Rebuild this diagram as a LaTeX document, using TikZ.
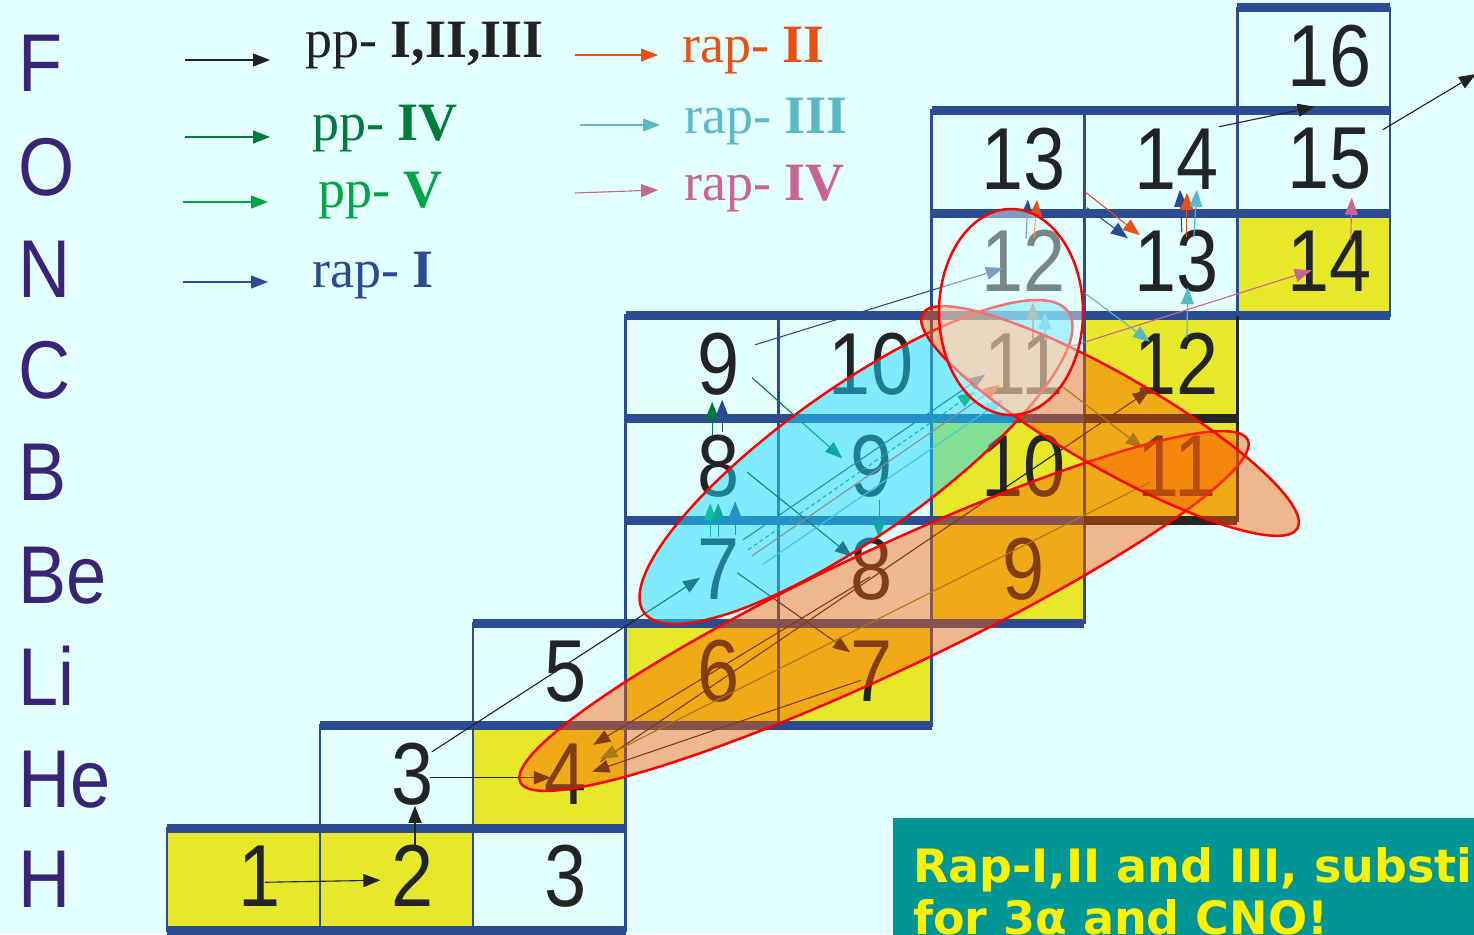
\documentclass[tikz,border=0pt]{standalone}
\usepackage{graphicx}
\usepackage{fontspec}
\setmainfont{Liberation Serif}
\setsansfont{Liberation Sans}
\newfontfamily\notefont{DejaVu Sans}
\usetikzlibrary{arrows.meta,calc}

\definecolor{bgcyan}{RGB}{228,255,255}
\definecolor{stable}{RGB}{232,232,42}
\definecolor{barblue}{RGB}{43,76,145}
\definecolor{elem}{RGB}{58,36,120}
\definecolor{numgray}{RGB}{34,36,38}
\definecolor{ppblack}{RGB}{34,34,34}
\definecolor{ppgreen}{RGB}{0,122,61}
\definecolor{pplime}{RGB}{0,166,70}
\definecolor{rapblue}{RGB}{40,75,150}
\definecolor{raporange}{RGB}{232,80,20}
\definecolor{rapcyan}{RGB}{90,185,200}
\definecolor{rappink}{RGB}{200,100,150}
\definecolor{olivec}{RGB}{107,142,35}
\definecolor{blob}{RGB}{30,215,255}
\definecolor{salmon}{RGB}{252,93,0}
\definecolor{notebg}{RGB}{0,150,150}

\tikzset{
  cell/.style={draw=barblue, line width=2.5pt, minimum width=152.9pt, minimum height=102.5pt,
    inner sep=0pt, outer sep=0pt, fill=bgcyan},
  num/.style={font=\fontsize{88}{88}\sffamily, text=numgray, inner sep=0pt},
  elm/.style={font=\fontsize{82}{82}\sffamily, text=elem, inner sep=0pt, anchor=base west},
  leg/.style={font=\fontsize{54}{54}\selectfont, inner sep=0pt, anchor=base west},
  arr/.style={-{Triangle[length=17pt,width=13pt]}, line width=1.1pt},
  bar/.style={barblue, line width=9pt},
  ring/.style={red, line width=2.5pt},
  notetxt/.style={font=\fontsize{46}{46}\notefont\bfseries, text=yellow, inner sep=0pt, anchor=base west}
}

\begin{document}
\begin{tikzpicture}[x=1pt, y=-1pt]
  \useasboundingbox (0,0) rectangle (1474,934);
  \clip (0,0) rectangle (1474,934);
  \fill[bgcyan] (0,0) rectangle (1474,934);

  % Cases de la carte
  \foreach \nm/\cc/\rr/\mass/\fl in {
    H1/0/0/1/stable, H2/1/0/2/stable, H3/2/0/3/bgcyan,
    He3/1/1/3/bgcyan, He4/2/1/4/stable,
    Li5/2/2/5/bgcyan, Li6/3/2/6/stable, Li7/4/2/7/stable,
    Be7/3/3/7/bgcyan, Be8/4/3/8/bgcyan, Be9/5/3/9/stable,
    B8/3/4/8/bgcyan, B9/4/4/9/bgcyan, B10/5/4/10/stable, B11/6/4/11/stable,
    C9/3/5/9/bgcyan, C10/4/5/10/bgcyan, C11/5/5/11/bgcyan, C12/6/5/12/stable,
    N12/5/6/12/bgcyan, N13/6/6/13/bgcyan, N14/7/6/14/stable,
    O13/5/7/13/bgcyan, O14/6/7/14/bgcyan, O15/7/7/15/bgcyan,
    F16/7/8/16/bgcyan} {
    \node[cell, fill=\fl] (\nm) at ({243.45+\cc*152.9}, {879.25-\rr*102.5}) {};
    \node[num] at ($(\nm)+(16,-3)$) {\scalebox{0.86}[1]{\mass}};
  }

  % Barres
  \draw[bar] (H1.south west) -- (H3.south east);
  \draw[bar] (H1.north west) -- (H3.north east);
  \draw[bar] (He3.north west) -- (Li7.south east);
  \draw[bar] (Li5.north west) -- (Be9.south east);
  \draw[bar] (B8.south west) -- (B11.south east);
  \draw[bar] (C9.south west) -- (C12.south east);
  \draw[bar] (C9.north west) -- (N14.south east);
  \draw[bar] (N12.north west) -- (N14.north east);
  \draw[bar] (O13.north west) -- (O15.north east);
  \draw[bar] (F16.north west) -- (F16.north east);
  \draw[bar, black!85] (C12.south west) -- (C12.south east);
  \draw[bar, black!85] (B11.south west) -- (B11.south east);
  \draw[black!85, line width=3pt] (C12.north east) -- (B11.south east);

  % Elements
  \foreach \nm/\t/\y in {lF/F/92, lO/O/195, lN/N/297, lC/C/398, lB/B/500,
    lBe/Be/603, lLi/Li/705, lHe/He/807, lH/H/907} {
    \node[elm] (\nm) at (18,\y) {\scalebox{0.88}[1]{\t}};
  }

  % Legende
  \node[leg, text=ppblack] (ppI) at (305,58) {pp- \textbf{I,II,III}};
  \node[leg, text=ppgreen] (ppIV) at (312,140) {pp- \textbf{IV}};
  \node[leg, text=pplime] (ppV) at (318,207) {pp- \textbf{V}};
  \node[leg, text=rapblue] (rapI) at (312,287) {rap- \textbf{I}};
  \node[leg, text=raporange] (rapII) at (682,63) {rap- \textbf{II}};
  \node[leg, text=rapcyan] (rapIII) at (684,133) {rap- \textbf{III}};
  \node[leg, text=rappink] (rapIV) at (684,200) {rap- \textbf{IV}};

  \draw[arr, ppblack] ($(ppI.base west)+(-120,2)$) -- ($(ppI.base west)+(-35,2)$);
  \draw[arr, ppgreen] ($(ppIV.base west)+(-127,-3)$) -- ($(ppIV.base west)+(-42,-3)$);
  \draw[arr, pplime] ($(ppV.base west)+(-135,-5)$) -- ($(ppV.base west)+(-50,-5)$);
  \draw[arr, rapblue] ($(rapI.base west)+(-129,-5)$) -- ($(rapI.base west)+(-44,-5)$);
  \draw[arr, raporange] ($(rapII.base west)+(-107,-8)$) -- ($(rapII.base west)+(-24,-8)$);
  \draw[arr, rapcyan] ($(rapIII.base west)+(-104,-8)$) -- ($(rapIII.base west)+(-24,-8)$);
  \draw[arr, rappink] ($(rapIV.base west)+(-109,-7)$) -- ($(rapIV.base west)+(-26,-10)$);

  % Reactions
  \coordinate (exit) at (1476,74);
  \foreach \src/\sx/\sy/\dst/\dx/\dy/\col in {
    H1/21.5/3/H2/-16/1/ppblack, H2/18.6/-34/He3/18.6/29/ppblack,
    He3/33.6/1/He4/1.7/1/ppblack, He3/35.6/-25/Be7/-2/6/ppblack,
    Be7/35/1/Li7/-5/-22/ppblack, Li7/6/6/He4/43/-5/ppblack,
    Be8/15/5/He4/44/-32/ppblack, He4/51/-15/C12/-11/23/ppblack,
    B8/45/3/Be8/-3/-15/ppblack,
    B11/-11/13/He4/51/-18/olivec, C11/52/18/B11/-18/-21/olivec,
    Be7/8/-35/B8/8/34/pplime, Be7/16/-35/B8/16/34/ppgreen,
    Be7/33/-37/B8/33/32/rapblue,
    B8/10/-34/C9/10/35/ppgreen, B8/20/-37/C9/20/33/rapblue,
    C9/50/11/B9/-13/-11/ppgreen, B9/24/31/Be8/24/-34/ppgreen,
    Be7/41/-32/C11/-23/8/rapblue, Be7/50/-16/C11/-8/18/raporange,
    Be7/60/-7/C11/-5/33/rapcyan,
    C9/53/-22/N12/-5/4/rapblue,
    N12/18/-26/O13/20/38/rapblue, N12/26/-26/O13/29/38/raporange,
    O13/79/46/N13/-33/-26/rapblue, O13/77/30/N13/-21/-29/raporange,
    N13/21/-32/O14/19/28/rapblue, N13/26/-27/O14/26/31/raporange,
    N13/33/-27/O14/36/28/rapcyan,
    C12/26/-29/N13/27/23/rapcyan, N12/77/29/C12/-11/-25/rapcyan,
    C11/25/-27/N12/25/38/raporange, C11/37/-27/N12/37/48/rapcyan,
    C11/59/-19/N14/-2/6/rappink, N14/37/-24/O15/38/36/rappink,
    O14/58/-35/O15/1/-55/ppblack} {
    \draw[arr, color=\col] ($(\src)+(\sx,\sy)$) -- ($(\dst)+(\dx,\dy)$);
  }
  \draw[arr, pplime, dash pattern=on 4pt off 3pt] ($(Be7)+(46,-22)$) -- ($(C11)+(-33,25)$);
  \draw[arr, ppblack] ($(O15)+(69,-32)$) -- (exit);

  % Zones
  \begin{scope}[even odd rule]
    \clip[rotate around={25.2:(884,611)}]
      (-3000,-3000) rectangle (5000,5000) (884,611) ellipse (402 and 61);
    \clip[rotate around={-29.8:(1110,421)}]
      (-3000,-3000) rectangle (5000,5000) (1110,421) ellipse (216 and 47);
    \fill[blob, fill opacity=0.5, rotate around={35.3:(856,462)}] (856,462) ellipse (260 and 74);
  \end{scope}
  \draw[ring, rotate around={35.3:(856,462)}] (856,462) ellipse (260 and 74);
  \draw[ring, fill=salmon, fill opacity=0.44, rotate around={25.2:(884,611)}] (884,611) ellipse (402 and 61);
  \draw[ring, fill=salmon, fill opacity=0.44, rotate around={-29.8:(1110,421)}] (1110,421) ellipse (216 and 47);
  \draw[ring, fill=bgcyan, fill opacity=0.45] (1011,312) ellipse (72 and 103);

  % Remarque
  \node[fill=notebg, anchor=north west, minimum width=620pt, minimum height=140pt, inner sep=0pt] (note) at (893,818) {};
  \node[notetxt] (noteA) at ($(note.north west)+(20,64)$) {Rap-I,II and III, substi};
  \node[notetxt] (noteB) at ($(noteA.base west)+(0,52)$) {for 3α and CNO!};
\end{tikzpicture}
\end{document}
